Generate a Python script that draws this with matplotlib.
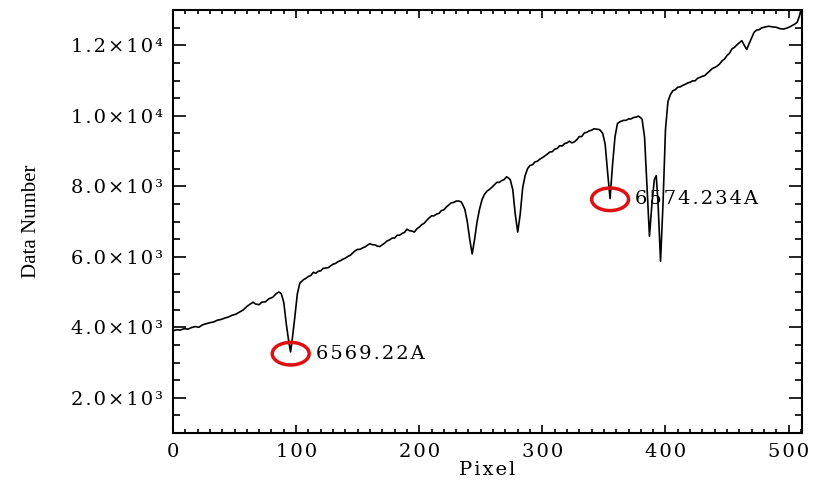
import matplotlib
matplotlib.use("Agg")
import matplotlib.pyplot as plt
from matplotlib.patches import Ellipse
from matplotlib.ticker import MultipleLocator, FuncFormatter

# spectrum (pixel, data number)
pix = [0, 3, 6, 9, 12, 15, 18, 21, 24, 27, 30, 33, 36, 39, 42, 45, 48, 51, 54, 57,
       60, 62, 65, 67, 70, 72, 75, 78, 81, 84, 86, 88,
       90, 92, 94, 95.5, 97, 99, 101, 103, 106,
       108, 110, 112, 114, 116, 118, 120, 122, 124, 126, 128, 130, 132, 134, 136, 138,
       140, 142, 144, 146, 148, 150, 152, 154, 156, 158, 160, 162, 164, 166, 168, 170,
       172, 174, 176, 178, 180, 182, 184, 186, 188, 190, 192, 194, 196, 198, 200, 202,
       204, 206, 208, 210, 212, 214, 216, 218, 220, 222, 224, 226, 228, 230, 232, 234, 235,
       237, 239, 241, 243, 245, 247, 249, 251, 253, 255, 257, 259, 261, 263, 265, 267,
       269, 271, 273, 274,
       276, 278, 280, 282, 284, 286, 288, 290, 292, 294, 296, 298, 300, 302, 304, 306,
       308, 310, 312, 314, 316, 318, 320, 322, 324, 326, 328, 330, 332, 334, 336, 338,
       340, 342, 344, 346, 347, 349,
       351, 353, 355, 357, 359, 361, 363, 366, 368, 370, 372, 374, 376, 378, 380, 381,
       383, 385, 387, 389, 391, 392.5, 394, 396, 398, 400, 402, 404, 406, 408, 410, 412,
       414, 416, 418, 420, 422, 424, 426, 428, 430, 432, 434, 436, 438, 440, 442, 444,
       446, 448, 450, 452, 454, 456, 458, 460, 462, 464, 466, 468, 470, 472, 474, 476,
       478, 481, 484, 487, 490, 493, 496, 499, 502, 505, 507, 509, 510]
counts = [3900, 3930, 3920, 3960, 3945, 3990, 4020, 4000, 4070, 4100, 4130, 4150, 4200, 4220, 4260, 4290, 4340, 4370, 4430, 4490,
          4590, 4640, 4710, 4660, 4640, 4710, 4720, 4810, 4850, 4960, 5000, 4950,
          4700, 4100, 3600, 3300, 3700, 4300, 4950, 5250, 5350,
          5390, 5440, 5470, 5560, 5530, 5590, 5600, 5670, 5680, 5690, 5740, 5790, 5810, 5860, 5890, 5930,
          5960, 6010, 6040, 6110, 6170, 6210, 6210, 6250, 6280, 6330, 6370, 6340, 6340, 6300, 6290, 6340,
          6390, 6450, 6480, 6530, 6530, 6610, 6610, 6660, 6690, 6780, 6740, 6730, 6700, 6790, 6840, 6910,
          6950, 7030, 7100, 7160, 7160, 7210, 7230, 7310, 7330, 7410, 7470, 7530, 7540, 7580, 7580, 7560, 7500,
          7350, 7000, 6500, 6080, 6500, 7000, 7350, 7620, 7770, 7860, 7910, 7970, 8040, 8110, 8110, 8160,
          8190, 8270, 8220, 8180,
          7900, 7200, 6700, 7200, 7950, 8300, 8500, 8590, 8610, 8690, 8710, 8770, 8810, 8860, 8910, 8970,
          8980, 9050, 9070, 9150, 9140, 9210, 9230, 9280, 9230, 9260, 9320, 9410, 9410, 9510, 9530, 9570,
          9590, 9630, 9620, 9610, 9590, 9500,
          9200, 8400, 7650, 8600, 9400, 9780, 9830, 9870, 9870, 9910, 9910, 9950, 9960, 9990, 9940, 9900,
          9400, 8000, 6580, 7500, 8200, 8300, 7500, 5870, 7500, 9600, 10400, 10600, 10710, 10740, 10810, 10820,
          10860, 10890, 10930, 10950, 10990, 10990, 11060, 11090, 11120, 11140, 11210, 11270, 11340, 11370, 11410, 11470,
          11560, 11610, 11710, 11770, 11900, 11940, 12010, 12070, 12130, 12000, 11880, 12050, 12210, 12370, 12430, 12440,
          12490, 12520, 12540, 12520, 12510, 12470, 12460, 12490, 12540, 12600, 12650, 12850, 13000]

# marked lines
line_pix = [95.6, 355]
line_val = [3250, 7630]
line_lbl = ["6569.22A", "6574.234A"]

HS = "\u200a"  # hair space, widens the narrow font toward the wide plot font


def spaced(s):
    return HS.join(s)


fig = plt.figure(figsize=(8.16, 4.88), dpi=100)
ax = fig.add_axes([0.212, 0.1127, 0.771, 0.8668])

ax.plot(pix, counts, color="black", lw=1.2)

for px, val, lbl in zip(line_pix, line_val, line_lbl):
    ax.add_patch(Ellipse((px, val), width=30, height=640, fill=False,
                         edgecolor="#e01010", lw=2.5, zorder=3))
    ax.text(px + 20.5, val, spaced(lbl), fontsize=14, family="DejaVu Serif",
            va="center", ha="left", zorder=4)

ax.set_xlim(0, 511)
ax.set_ylim(1000, 13000)
ax.xaxis.set_major_locator(MultipleLocator(100))
ax.xaxis.set_minor_locator(MultipleLocator(10))
ax.yaxis.set_major_locator(MultipleLocator(2000))
ax.yaxis.set_minor_locator(MultipleLocator(500))

sup = str.maketrans("0123456789", "⁰¹²³⁴⁵⁶⁷⁸⁹")


def sci(v, pos):
    e = len(str(int(v))) - 1
    return spaced(f"{v / 10**e:.1f}×10" + str(e).translate(sup))


ax.xaxis.set_major_formatter(FuncFormatter(lambda v, pos: spaced(str(int(v)))))
ax.yaxis.set_major_formatter(FuncFormatter(sci))

ax.tick_params(axis="both", which="both", direction="in", top=True, right=True,
               width=1.2, colors="black")
ax.tick_params(axis="x", which="major", length=6, pad=7)
ax.tick_params(axis="x", which="minor", length=3)
ax.tick_params(axis="y", which="major", length=9.5, pad=7)
ax.tick_params(axis="y", which="minor", length=5)
for lab in ax.get_xticklabels() + ax.get_yticklabels():
    lab.set_family("DejaVu Serif")
    lab.set_fontsize(14)
for sp in ax.spines.values():
    sp.set_linewidth(1.5)

ax.set_xlabel(spaced("Pixel"), fontsize=14, family="DejaVu Serif", labelpad=0)
ax.set_ylabel("Data Number", fontsize=15, family="Liberation Serif", labelpad=22)

fig.savefig("out.png", dpi=100)
